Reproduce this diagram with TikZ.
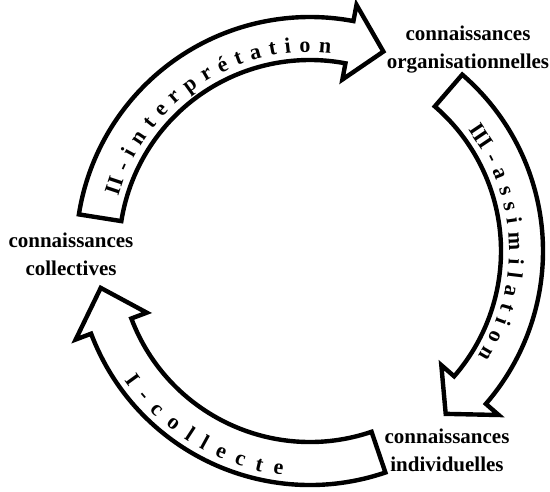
\documentclass[tikz,border=0pt]{standalone}
\usepackage{fontspec}
\setmainfont{Liberation Serif}
\usetikzlibrary{decorations.text}
\begin{document}
\begin{tikzpicture}[x=1pt,y=1pt,
  fatarrow/.style={draw=black,line width=4.4pt,fill=white,line join=miter},
  knowledge/.style={font=\bfseries\fontsize{21}{28}\selectfont,align=center,inner sep=0pt,anchor=base},
  arrowtext/.style={decorate,decoration={text along path,text align={fit to path},text={#1}}}
]
\useasboundingbox (0,0) rectangle (550,492);
\coordinate (O) at (310,241);
\begin{scope}[shift={(O)}]
  % II - interpretation
  \draw[fatarrow] (171:234) arc[start angle=171,end angle=79.3,radius=234]
    -- (79.3:250.5) -- (69.8:212.5) -- (79.3:174.5) -- (79.3:191)
    arc[start angle=79.3,end angle=171,radius=191] -- cycle;
  % III - assimilation
  \draw[fatarrow] (49.2:233) arc[start angle=49.2,end angle=-41,radius=233]
    -- (-41:250) -- (-50.2:212) -- (-41:174) -- (-41:191)
    arc[start angle=-41,end angle=49.2,radius=191] -- cycle;
  % I - collecte
  \draw[fatarrow] (-71.2:234) arc[start angle=-71.2,end angle=-159.3,radius=234]
    -- (-159.3:250.5) -- (-170:212.5) -- (-159.3:174.5) -- (-159.3:191)
    arc[start angle=-159.3,end angle=-71.2,radius=191] -- cycle;
  % labels along the arrows
  \path[arrowtext={|\bfseries\fontsize{22}{22}\selectfont|{II}-interprétation}]
    (164:199) arc[start angle=164,end angle=84,radius=199];
  \path[arrowtext={|\bfseries\fontsize{22}{22}\selectfont|{III}-assimilation}]
    (37.5:199) arc[start angle=37.5,end angle=-32,radius=199];
  \path[arrowtext={|\bfseries\fontsize{22}{22}\selectfont|I-collecte}]
    (215:226) arc[start angle=215,end angle=263,radius=226];
\end{scope}
\node[knowledge] (orga) at (468,423) {connaissances\\organisationnelles};
\node[knowledge] (coll) at (71,216) {connaissances\\collectives};
\node[knowledge] (indiv) at (447,20) {connaissances\\individuelles};
\end{tikzpicture}
\end{document}
